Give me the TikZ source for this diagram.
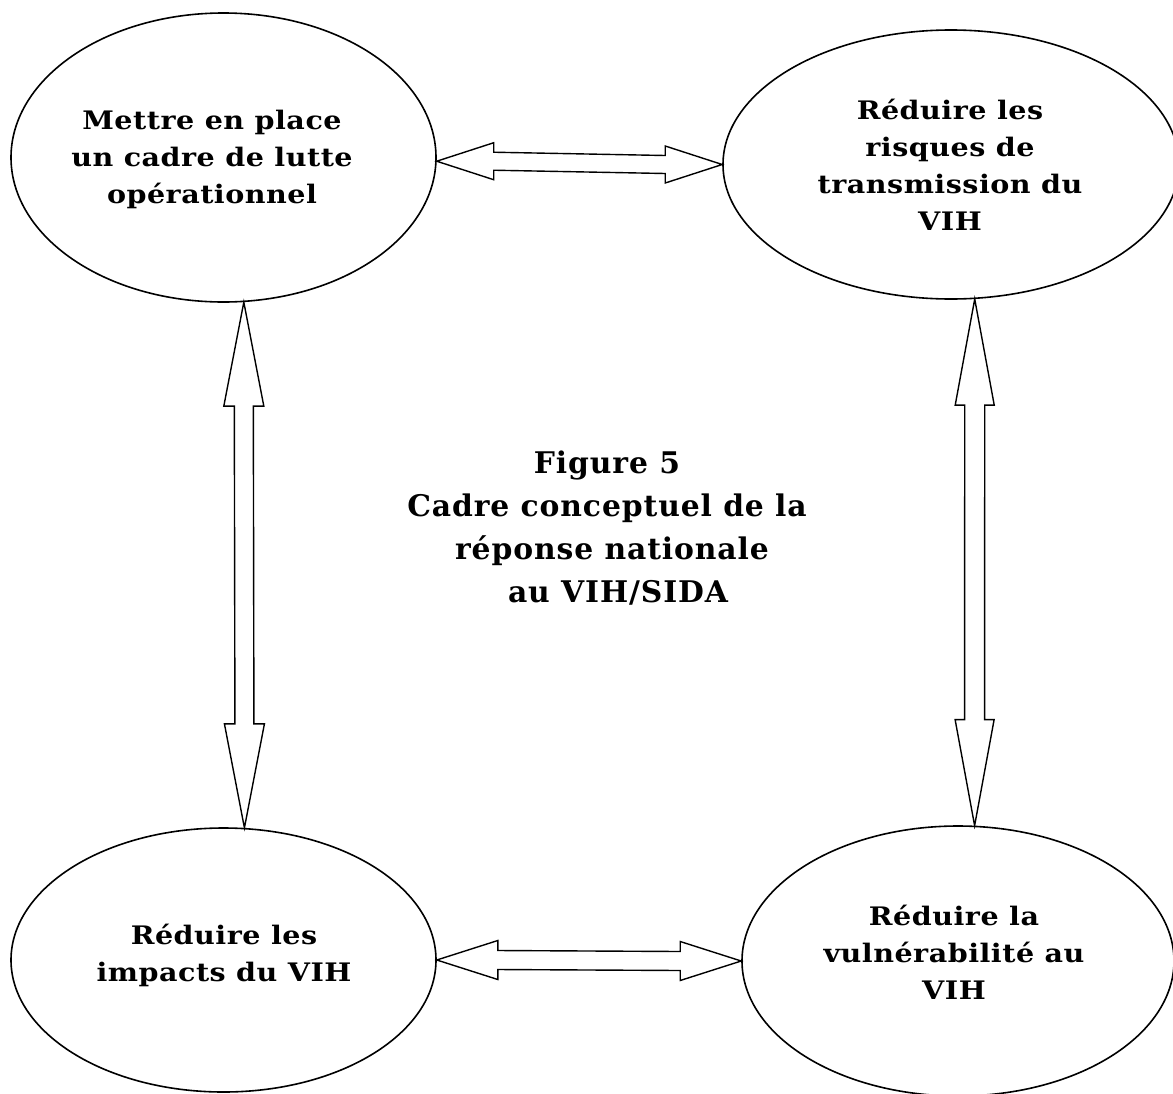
\documentclass[tikz,border=0pt]{standalone}
\usepackage{fontspec}
\setmainfont{DejaVu Serif}
\newfontfamily\widefont[FakeStretch=1.12,LetterSpace=2]{DejaVu Serif}
\usetikzlibrary{shapes.geometric,calc}
\tikzset{
  oval/.style={draw, ellipse, line width=1.6pt, inner sep=0pt},
  lbl/.style={align=center, font=\widefont\bfseries\fontsize{25.5}{36.8}\selectfont, inner sep=0pt, anchor=base},
  ttl/.style={align=center, font=\bfseries\fontsize{29.8}{43}\selectfont\addfontfeatures{LetterSpace=3}, inner sep=0pt, anchor=base},
  blk/.style={draw, line width=1.4pt, line join=miter},
}
% horizontal block double arrow: #1 left tip, #2 right tip, #3 head length, #4 head half height, #5 shaft half height
\newcommand{\hblockarrow}[5]{%
  \draw[blk] let \p1=(#1), \p2=(#2) in
    (\x1,\y1) -- (\x1+#3pt,\y1+#4pt) -- (\x1+#3pt,\y1+#5pt) -- (\x2-#3pt,\y2+#5pt)
    -- (\x2-#3pt,\y2+#4pt) -- (\x2,\y2) -- (\x2-#3pt,\y2-#4pt) -- (\x2-#3pt,\y2-#5pt)
    -- (\x1+#3pt,\y1-#5pt) -- (\x1+#3pt,\y1-#4pt) -- cycle;}
% vertical block double arrow: #1 top tip, #2 bottom tip, #3 head length, #4 head half width, #5 shaft half width
\newcommand{\vblockarrow}[5]{%
  \draw[blk] let \p1=(#1), \p2=(#2) in
    (\x1,\y1) -- (\x1+#4pt,\y1-#3pt) -- (\x1+#5pt,\y1-#3pt) -- (\x2+#5pt,\y2+#3pt)
    -- (\x2+#4pt,\y2+#3pt) -- (\x2,\y2) -- (\x2-#4pt,\y2+#3pt) -- (\x2-#5pt,\y2+#3pt)
    -- (\x1-#5pt,\y1-#3pt) -- (\x1-#4pt,\y1-#3pt) -- cycle;}
\begin{document}
\begin{tikzpicture}[x=1pt,y=-1pt]
\useasboundingbox (0,0) rectangle (1173,1093);
\clip (0,0) rectangle (1173,1093);

% ellipses
\node[oval, minimum width=425pt, minimum height=289pt] (tl) at (223.5,157.5) {};
\node[oval, minimum width=456pt, minimum height=269pt] (tr) at (951,164.5) {};
\node[oval, minimum width=425pt, minimum height=264pt] (bl) at (223.5,960) {};
\node[oval, minimum width=432pt, minimum height=270pt] (br) at (958,961) {};

% texts (anchor = baseline of the last line)
\node[lbl] (tlt) at (212,203) {Mettre en place\\un cadre de lutte\\opérationnel};
\node[lbl] (trt) at (950,230) {Réduire les\\risques de\\transmission du\\VIH};
\node[lbl] (blt) at (224,981) {Réduire les\\impacts du VIH};
\node[lbl] (brt) at (954,999) {Réduire la\\vulnérabilité au\\VIH};
\node[ttl] (title) at (607,602) {Figure 5\\Cadre conceptuel de la\\\hspace*{10pt}réponse nationale\\\hspace*{22pt}au VIH/SIDA};

% block arrows
\hblockarrow{tl.-1.75}{tr.180}{57}{18.5}{9}
\hblockarrow{bl.0}{br.180}{61}{19.5}{9.5}
\vblockarrow{tl.-82.3}{bl.81.6}{104}{20}{9.5}
\vblockarrow{tr.-80.7}{br.83.2}{106}{19.5}{10}
\end{tikzpicture}
\end{document}
